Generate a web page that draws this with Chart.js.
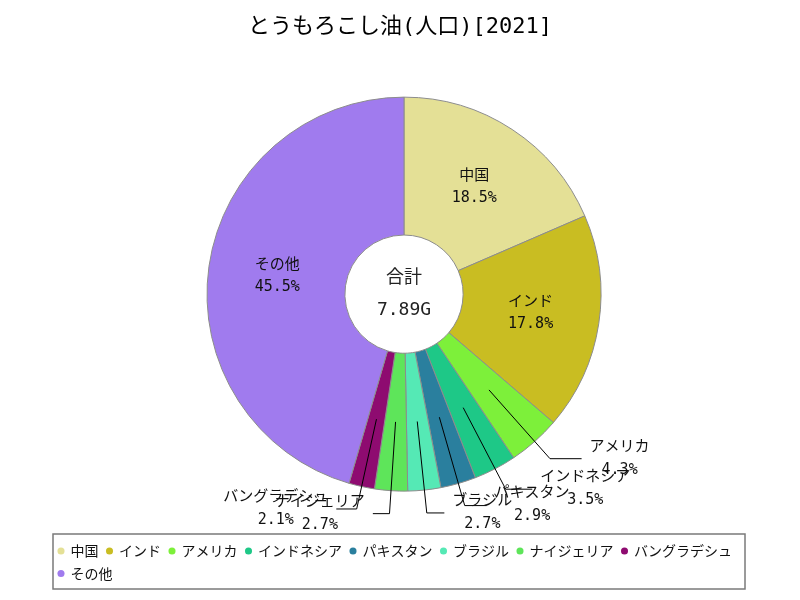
<!DOCTYPE html>
<html>
<head>
<meta charset="utf-8">
<script src="https://cdn.jsdelivr.net/npm/chart.js@4/dist/chart.umd.min.js"></script>
<style>
  html, body { margin: 0; padding: 0; background: #ffffff; }
  #wrap { width: 800px; height: 600px; }
</style>
</head>
<body>
<div id="wrap"><canvas id="oilChart" width="800" height="600"></canvas></div>
<script>
const countries = ['中国', 'インド', 'アメリカ', 'インドネシア', 'パキスタン', 'ブラジル', 'ナイジェリア', 'バングラデシュ', 'その他'];
const shares = [18.5, 17.8, 4.3, 3.5, 2.9, 2.7, 2.7, 2.1, 45.5];
const sliceColors = ['#e4e096', '#c9bd22', '#7df03a', '#1ec887', '#2a7f9e', '#55e9b5', '#5ee55a', '#8e0b70', '#a07bee'];
const totalLabel = '7.89G';
const chartTitle = 'とうもろこし油(人口)[2021]';

const monoStack = '"DejaVu Sans Mono", "Noto Sans CJK JP", sans-serif';
const labelFont = '15px ' + monoStack;

// slice labels: big slices inside the ring, small ones outside with a leader line
const sliceLabels = {
    id: 'sliceLabels',
    afterDatasetsDraw(chart) {
        const ctx = chart.ctx;
        const meta = chart.getDatasetMeta(0);
        const total = shares.reduce((a, b) => a + b, 0);
        ctx.save();
        ctx.font = labelFont;
        ctx.fillStyle = '#111';
        ctx.textAlign = 'center';
        ctx.textBaseline = 'middle';
        meta.data.forEach((arc, i) => {
            const p = arc.getProps(['x', 'y', 'startAngle', 'endAngle', 'innerRadius', 'outerRadius'], true);
            const mid = (p.startAngle + p.endAngle) / 2;
            const cos = Math.cos(mid), sin = Math.sin(mid);
            const rMid = (p.innerRadius + p.outerRadius) / 2;
            const pct = (shares[i] / total * 100).toFixed(1) + '%';
            if (shares[i] >= 5) {
                const x = p.x + cos * rMid, y = p.y + sin * rMid;
                ctx.fillText(countries[i], x, y - 11);
                ctx.fillText(pct, x, y + 11);
                return;
            }
            const x1 = p.x + cos * rMid, y1 = p.y + sin * rMid;
            const rOut = p.outerRadius + 23;
            const x2 = p.x + cos * rOut, y2 = p.y + sin * rOut;
            const dir = cos >= 0 ? 1 : -1;
            const x3 = x2 + dir * (15 + 25 * Math.abs(cos));
            ctx.strokeStyle = '#000';
            ctx.lineWidth = 1;
            ctx.beginPath();
            ctx.moveTo(x1, y1);
            ctx.lineTo(x2, y2);
            ctx.lineTo(x3, y2);
            ctx.stroke();
            const w = Math.max(ctx.measureText(countries[i]).width, ctx.measureText(pct).width);
            const cx = x3 + dir * (8 + w / 2);
            ctx.fillText(countries[i], cx, y2 - 12);
            ctx.fillText(pct, cx, y2 + 11);
        });
        ctx.restore();
    }
};

// total in the hole + a frame round the legend
const extras = {
    id: 'extras',
    afterLayout(chart) {
        // pie sits a little right of the page centre
        chart.chartArea.left += 4;
        chart.chartArea.right += 4;
    },
    afterDraw(chart) {
        const ctx = chart.ctx;
        const arc = chart.getDatasetMeta(0).data[0];
        ctx.save();
        ctx.fillStyle = '#222';
        ctx.textAlign = 'center';
        ctx.textBaseline = 'middle';
        ctx.font = '18px ' + monoStack;
        ctx.fillText('合計', arc.x, arc.y - 16);
        ctx.fillText(totalLabel, arc.x, arc.y + 16);
        const lg = chart.legend;
        ctx.strokeStyle = '#7a7a7a';
        ctx.lineWidth = 1.5;
        ctx.strokeRect(lg.left + 3, lg.top - 1.5, 692, 55);
        ctx.restore();
    }
};

const baseLabels = Chart.controllers.doughnut.overrides.plugins.legend.labels.generateLabels;

new Chart(document.getElementById('oilChart'), {
    type: 'doughnut',
    data: {
        labels: countries,
        datasets: [{
            data: shares,
            backgroundColor: sliceColors,
            borderColor: '#8c8c8c',
            borderWidth: 1,
            radius: 197,
            cutout: '30%'
        }]
    },
    options: {
        responsive: false,
        animation: false,
        layout: { padding: { left: 50, right: 50, top: 0, bottom: 9.5 } },
        plugins: {
            title: {
                display: true,
                text: chartTitle,
                color: '#000',
                font: { family: monoStack, size: 22, weight: 'normal' },
                padding: { top: 14, bottom: 12.35 }
            },
            legend: {
                position: 'bottom',
                align: 'start',
                labels: {
                    usePointStyle: true,
                    pointStyle: 'circle',
                    boxWidth: 5,
                    boxHeight: 5,
                    padding: 8.5,
                    color: '#111',
                    font: { family: '"Noto Sans CJK JP", sans-serif', size: 14 },
                    generateLabels(chart) {
                        return baseLabels(chart).map(item => Object.assign(item, { lineWidth: 0, strokeStyle: item.fillStyle }));
                    }
                }
            },
            tooltip: { enabled: false }
        }
    },
    plugins: [sliceLabels, extras]
});
</script>
</body>
</html>
